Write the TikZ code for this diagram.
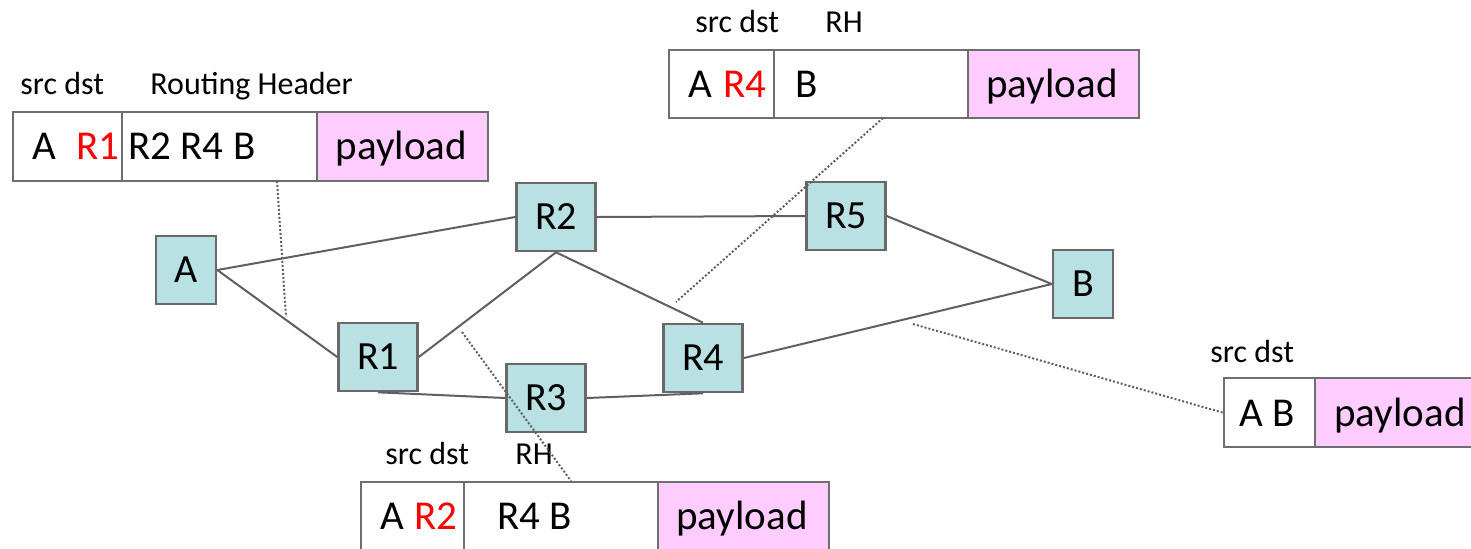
\documentclass[tikz,border=0pt]{standalone}
\usepackage{fontspec}
\setmainfont{Carlito}
\definecolor{nodefill}{RGB}{185,224,227}
\definecolor{nodegray}{RGB}{105,105,105}
\definecolor{linegray}{RGB}{95,95,95}
\definecolor{boxgray}{RGB}{110,110,110}
\definecolor{pinkfill}{RGB}{255,204,255}
\definecolor{hopred}{RGB}{255,0,0}
\begin{document}
\begin{tikzpicture}[x=0.5pt,y=-0.5pt,
  router/.style={draw=nodegray, line width=1.3pt, fill=nodefill, minimum width=39.5pt, minimum height=34pt, inner sep=0pt, font=\fontsize{20}{24}\selectfont},
  host/.style={router, minimum width=30pt},
  link/.style={draw=linegray, line width=1pt},
  field/.style={draw=boxgray, line width=1.2pt, fill=white, inner sep=0pt, anchor=north west},
  pay/.style={field, fill=pinkfill},
  ptext/.style={anchor=base west, inner sep=0pt, font=\fontsize{20.5}{24}\selectfont},
  ptextc/.style={ptext, anchor=base},
  lbl/.style={anchor=base west, inner sep=0pt, font=\fontsize{16}{19}\selectfont},
  leader/.style={draw=linegray, line width=1pt, densely dotted}]
\useasboundingbox (0,0) rectangle (1471,548);

% routers and hosts
\node[host] (A) at (186,270) {A};
\node[router] (R2) at (556,217) {R2};
\node[router] (R1) at (378,357) {R1};
\node[router] (R3) at (546,398) {R3};
\node[router] (R5) at (846,216) {R5};
\node[router] (R4) at (703,358) {R4};
\node[host] (B) at (1083,284) {B};

% links
\draw[link] (A.east) -- (R2.west);
\draw[link] (A.east) -- (R1.west);
\draw[link] (R1.east) -- (R2.south);
\draw[link] (R2.south) -- (R4.north);
\draw[link] (R1.south) -- (R3.west);
\draw[link] (R3.east) -- (R4.south);
\draw[link] (R2.east) -- (R5.west);
\draw[link] (R5.east) -- (B.west);
\draw[link] (R4.east) -- (B.west);

% packet 1
\node[field, minimum width=54.5pt, minimum height=34.5pt] (p1src) at (12,111) {};
\node[field, minimum width=97.5pt, minimum height=34.5pt] (p1rh) at (121,111) {};
\node[pay, minimum width=85.5pt, minimum height=34.5pt] (p1pay) at (316,111) {};
\node[ptext] (p1a) at (32,159) {A};
\node[ptext, text=hopred] (p1d) at (76,159) {R1};
\node[ptext] (p1r) at (128,159) {R2 R4 B};
\node[ptextc] (p1p) at (401.5,159) {payload};
\node[lbl] (p1l1) at (20,94) {src dst};
\node[lbl] (p1l2) at (150,94) {Routing Header};

% packet 2
\node[field, minimum width=52.5pt, minimum height=34pt] (p2src) at (668,49) {};
\node[field, minimum width=97pt, minimum height=34pt] (p2rh) at (773,49) {};
\node[pay, minimum width=85.5pt, minimum height=34pt] (p2pay) at (967,49) {};
\node[ptext] (p2a) at (688,97) {A};
\node[ptext, text=hopred] (p2d) at (723,97) {R4};
\node[ptext] (p2r) at (795,97) {B};
\node[ptextc] (p2p) at (1052,97) {payload};
\node[lbl] (p2l1) at (695,32) {src dst};
\node[lbl] (p2l2) at (825,32) {RH};

% packet 3
\node[field, minimum width=51.5pt, minimum height=34.5pt] (p3src) at (360,481) {};
\node[field, minimum width=97pt, minimum height=34.5pt] (p3rh) at (463,481) {};
\node[pay, minimum width=85.5pt, minimum height=34.5pt] (p3pay) at (657,481) {};
\node[ptext] (p3a) at (380,529) {A};
\node[ptext, text=hopred] (p3d) at (414,529) {R2};
\node[ptext] (p3r) at (497,529) {R4 B};
\node[ptextc] (p3p) at (742,529) {payload};
\node[lbl] (p3l1) at (385,464) {src dst};
\node[lbl] (p3l2) at (515,464) {RH};

% packet 4
\node[field, minimum width=45.5pt, minimum height=34.5pt] (p4src) at (1223,377) {};
\node[pay, minimum width=90pt, minimum height=34.5pt] (p4pay) at (1314,377) {};
\node[ptext] (p4a) at (1239,426) {A B};
\node[ptextc] (p4p) at (1400,426) {payload};
\node[lbl] (p4l1) at (1210,362) {src dst};

% leaders
\coordinate (d1a) at (277,181);
\coordinate (d1b) at (286,317);
\coordinate (d2a) at (883,118);
\coordinate (d2b) at (676,302);
\coordinate (d3a) at (462,332);
\coordinate (d3b) at (571,481);
\coordinate (d4a) at (913,324);
\draw[leader] (d1a) -- (d1b);
\draw[leader] (d2a) -- (d2b);
\draw[leader] (d3a) -- (d3b);
\draw[leader] (d4a) -- (p4src.west);
\end{tikzpicture}
\end{document}
